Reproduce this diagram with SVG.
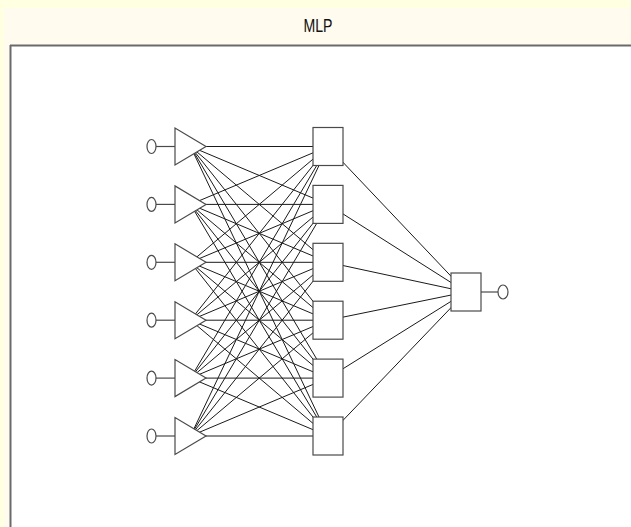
<svg xmlns="http://www.w3.org/2000/svg" width="631" height="527" viewBox="0 0 631 527">
  <style>
    .conn line { stroke: #1a1a1a; stroke-width: 1; }
    .node { fill: #ffffff; stroke: #4a4a4a; stroke-width: 1.2; }
    .lead { stroke: #4a4a4a; stroke-width: 1.2; }
    .title { font-family: "Liberation Sans", Arial, sans-serif; font-size: 19px; fill: #111; text-anchor: middle; }
  </style>
  <defs>
    <g id="inputUnit">
      <line class="lead" x1="156" y1="0" x2="175" y2="0"/>
      <ellipse class="node" cx="151.5" cy="0" rx="4.5" ry="7"/>
      <polygon class="node" points="175,-18.5 175,18.5 206,0"/>
    </g>
  </defs>

  <!-- window background and title bar -->
  <rect x="0" y="0" width="631" height="527" fill="#fffbef"/>
  <rect x="0" y="0" width="631" height="8" fill="#ffffe2"/>
  <rect x="0" y="0" width="4" height="527" fill="#ffffe2"/>
  <text class="title" x="318" y="32" textLength="29" lengthAdjust="spacingAndGlyphs">MLP</text>

  <!-- drawing panel -->
  <rect x="10" y="45" width="621" height="482" fill="#ffffff"/>
  <line x1="10" y1="45.5" x2="631" y2="45.5" stroke="#6a6a6a" stroke-width="2"/>
  <line x1="10.5" y1="45" x2="10.5" y2="527" stroke="#6a6a6a" stroke-width="2"/>

  <!-- weighted links: every input to every hidden unit, every hidden unit to the output -->
  <g id="connectors" class="conn">
    <line x1="190.5" y1="146.5" x2="328" y2="146.5"/>
    <line x1="190.5" y1="146.5" x2="328" y2="204.4"/>
    <line x1="190.5" y1="146.5" x2="328" y2="262.3"/>
    <line x1="190.5" y1="146.5" x2="328" y2="320.2"/>
    <line x1="190.5" y1="146.5" x2="328" y2="378.1"/>
    <line x1="190.5" y1="146.5" x2="328" y2="436"/>

    <line x1="190.5" y1="204.4" x2="328" y2="146.5"/>
    <line x1="190.5" y1="204.4" x2="328" y2="204.4"/>
    <line x1="190.5" y1="204.4" x2="328" y2="262.3"/>
    <line x1="190.5" y1="204.4" x2="328" y2="320.2"/>
    <line x1="190.5" y1="204.4" x2="328" y2="378.1"/>
    <line x1="190.5" y1="204.4" x2="328" y2="436"/>

    <line x1="190.5" y1="262.3" x2="328" y2="146.5"/>
    <line x1="190.5" y1="262.3" x2="328" y2="204.4"/>
    <line x1="190.5" y1="262.3" x2="328" y2="262.3"/>
    <line x1="190.5" y1="262.3" x2="328" y2="320.2"/>
    <line x1="190.5" y1="262.3" x2="328" y2="378.1"/>
    <line x1="190.5" y1="262.3" x2="328" y2="436"/>

    <line x1="190.5" y1="320.2" x2="328" y2="146.5"/>
    <line x1="190.5" y1="320.2" x2="328" y2="204.4"/>
    <line x1="190.5" y1="320.2" x2="328" y2="262.3"/>
    <line x1="190.5" y1="320.2" x2="328" y2="320.2"/>
    <line x1="190.5" y1="320.2" x2="328" y2="378.1"/>
    <line x1="190.5" y1="320.2" x2="328" y2="436"/>

    <line x1="190.5" y1="378.1" x2="328" y2="146.5"/>
    <line x1="190.5" y1="378.1" x2="328" y2="204.4"/>
    <line x1="190.5" y1="378.1" x2="328" y2="262.3"/>
    <line x1="190.5" y1="378.1" x2="328" y2="320.2"/>
    <line x1="190.5" y1="378.1" x2="328" y2="378.1"/>
    <line x1="190.5" y1="378.1" x2="328" y2="436"/>

    <line x1="190.5" y1="436" x2="328" y2="146.5"/>
    <line x1="190.5" y1="436" x2="328" y2="204.4"/>
    <line x1="190.5" y1="436" x2="328" y2="262.3"/>
    <line x1="190.5" y1="436" x2="328" y2="320.2"/>
    <line x1="190.5" y1="436" x2="328" y2="378.1"/>
    <line x1="190.5" y1="436" x2="328" y2="436"/>

    <line x1="328" y1="146.5" x2="466" y2="292"/>
    <line x1="328" y1="204.4" x2="466" y2="292"/>
    <line x1="328" y1="262.3" x2="466" y2="292"/>
    <line x1="328" y1="320.2" x2="466" y2="292"/>
    <line x1="328" y1="378.1" x2="466" y2="292"/>
    <line x1="328" y1="436" x2="466" y2="292"/>
  </g>

  <!-- input layer: terminal circle feeding a triangular fan-out unit -->
  <g id="input1"><use href="#inputUnit" y="146.5"/></g>
  <g id="input2"><use href="#inputUnit" y="204.4"/></g>
  <g id="input3"><use href="#inputUnit" y="262.3"/></g>
  <g id="input4"><use href="#inputUnit" y="320.2"/></g>
  <g id="input5"><use href="#inputUnit" y="378.1"/></g>
  <g id="input6"><use href="#inputUnit" y="436"/></g>

  <!-- hidden layer -->
  <g id="hidden1"><rect class="node" x="313" y="127.5" width="30" height="38"/></g>
  <g id="hidden2"><rect class="node" x="313" y="185.4" width="30" height="38"/></g>
  <g id="hidden3"><rect class="node" x="313" y="243.3" width="30" height="38"/></g>
  <g id="hidden4"><rect class="node" x="313" y="301.2" width="30" height="38"/></g>
  <g id="hidden5"><rect class="node" x="313" y="359.1" width="30" height="38"/></g>
  <g id="hidden6"><rect class="node" x="313" y="417" width="30" height="38"/></g>

  <!-- output unit -->
  <g id="output">
    <line class="lead" x1="481" y1="292" x2="498" y2="292"/>
    <rect class="node" x="451" y="273" width="30" height="38"/>
    <ellipse class="node" cx="503" cy="292" rx="5" ry="7"/>
  </g>
</svg>
